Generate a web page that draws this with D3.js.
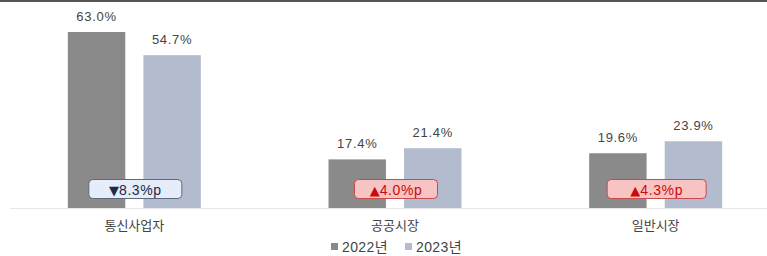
<!DOCTYPE html>
<html><head><meta charset="utf-8">
<script src="https://cdn.jsdelivr.net/npm/d3@7"></script>
<style>body{margin:0;background:#fff}svg{display:block}text{font-family:"Liberation Sans",Arial,"Noto Sans CJK KR",sans-serif}</style>
</head><body><svg id="c" width="767" height="256"></svg>
<script>
const categories = ["통신사업자", "공공시장", "일반시장"];
const seriesNames = ["2022년", "2023년"];
const values2022 = [63.0, 17.4, 19.6];
const values2023 = [54.7, 21.4, 23.9];
const changeLabels = ["▼8.3%p", "▲4.0%p", "▲4.3%p"];
const changeDirs = ["down", "up", "up"];

const colors = ["#8a8a8a", "#b3bccf"];
const W = 767, H = 256, baseY = 208;
const svg = d3.select("#c");

svg.append("rect").attr("x", 0).attr("y", 0).attr("width", W).attr("height", 2).attr("fill", "#555");

const x0 = d3.scaleBand().domain(categories).range([4, 786]).paddingInner(0).paddingOuter(0);
const x1 = d3.scaleBand().domain(seriesNames).range([-66.5, 66.5]).paddingInner(0.24).paddingOuter(0);
const y = d3.scaleLinear().domain([0, 63]).range([baseY, 32]);

svg.append("line").attr("x1", 10).attr("x2", W).attr("y1", baseY + 0.5).attr("y2", baseY + 0.5)
  .attr("stroke", "#e6e6e6").attr("stroke-width", 1);

const rows = categories.map((c, i) => ({c, i, vals: [values2022[i], values2023[i]]}));
const g = svg.selectAll("g.grp").data(rows).join("g").attr("class", "grp")
  .attr("transform", d => `translate(${x0(d.c) + x0.bandwidth() / 2},0)`);

g.selectAll("rect.bar").data(d => d.vals.map((v, k) => ({v, k})))
  .join("rect").attr("class", "bar")
  .attr("x", d => x1(seriesNames[d.k])).attr("width", x1.bandwidth())
  .attr("y", d => y(d.v)).attr("height", d => baseY - y(d.v))
  .attr("fill", d => colors[d.k]);

g.selectAll("text.val").data(d => d.vals.map((v, k) => ({v, k})))
  .join("text").attr("class", "val")
  .attr("x", d => x1(seriesNames[d.k]) + x1.bandwidth() / 2)
  .attr("y", d => y(d.v) - 11)
  .attr("text-anchor", "middle").attr("font-size", 13).attr("letter-spacing", 0.7).attr("fill", "#444")
  .text(d => d.v.toFixed(1) + "%");

const badgeW = [93, 83, 99];
g.append("rect")
  .attr("x", d => -badgeW[d.i] / 2 + 1).attr("y", 179.5).attr("width", d => badgeW[d.i]).attr("height", 19).attr("rx", 4)
  .attr("fill", d => changeDirs[d.i] === "down" ? "#e4edf9" : "#f8c3c3")
  .attr("stroke", d => changeDirs[d.i] === "down" ? "#5c6a7d" : "#c84a4a").attr("stroke-width", 1);
const bt = g.append("text")
  .attr("x", 1).attr("y", 194.5)
  .attr("text-anchor", "middle").attr("font-size", 14).attr("letter-spacing", 0.6)
  .attr("fill", d => changeDirs[d.i] === "down" ? "#1f2a44" : "#cc0a0a");
bt.append("tspan").attr("font-family", "'DejaVu Sans', sans-serif").attr("font-size", 13).attr("letter-spacing", 0)
  .text(d => changeLabels[d.i].slice(0, 1));
bt.append("tspan").text(d => changeLabels[d.i].slice(1));

g.append("text").attr("y", 229.5).attr("text-anchor", "middle").attr("font-size", 13).attr("fill", "#444")
  .text(d => d.c);

const leg = svg.append("g");
const legX = [331, 405];
seriesNames.forEach((s, k) => {
  leg.append("rect").attr("x", legX[k]).attr("y", 243).attr("width", 7).attr("height", 7).attr("fill", colors[k]);
  leg.append("text").attr("x", legX[k] + 11).attr("y", 252).attr("font-size", 14).attr("letter-spacing", 0.4).attr("fill", "#444").text(s);
});
</script></body></html>
